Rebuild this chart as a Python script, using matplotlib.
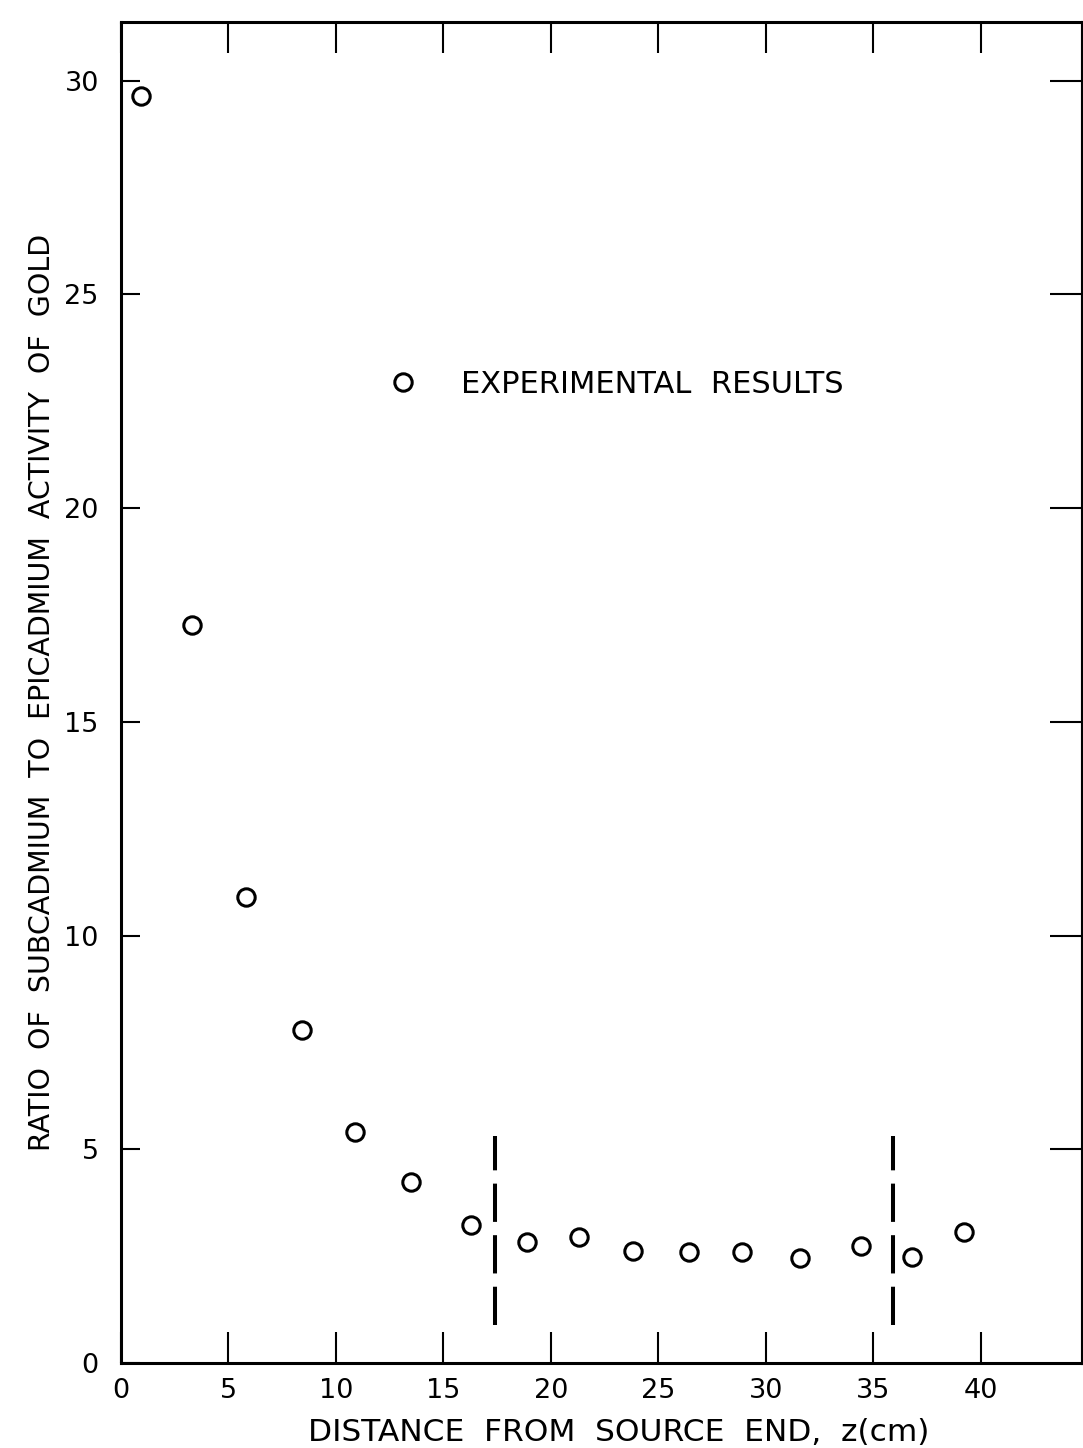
import numpy as np
import matplotlib
matplotlib.use("Agg")
from matplotlib import pyplot as plt

# data
z = [0.93, 3.3, 5.8, 8.4, 10.9, 13.5, 16.3, 18.9, 21.3, 23.8, 26.4, 28.9, 31.6, 34.4, 36.8, 39.2]
ratio = [29.64, 17.26, 10.9, 7.8, 5.4, 4.23, 3.23, 2.83, 2.95, 2.62, 2.60, 2.60, 2.46, 2.74, 2.48, 3.06]
bounds_z = [17.4, 35.9]
bounds_lo, bounds_hi = 0.9, 5.3
xticks = [0, 5, 10, 15, 20, 25, 30, 35, 40]
yticks = [0, 5, 10, 15, 20, 25, 30]

plt.rcParams['font.family'] = ['DejaVu Sans']
fig = plt.figure(figsize=(10.83, 14.48), dpi=100)
ax = fig.add_axes([121/1083, 1 - 1363/1448, (1082-121)/1083, (1363-22)/1448])

ax.plot(z, ratio, 'o', ms=12.5, mfc='white', mec='black', mew=2.2, label='EXPERIMENTAL  RESULTS')
ax.vlines(bounds_z, bounds_lo, bounds_hi, colors='black', lw=2.9, linestyles=[(0, (9.5, 3.3))])

ax.set_xlim(0, 44.7)
ax.set_ylim(0, 31.37)
ax.set_xticks(xticks)
ax.set_yticks(yticks)
ax.set_xticklabels([str(t) for t in xticks], fontsize=19.5)
ax.set_yticklabels([str(t) for t in yticks], fontsize=19.5)
ax.tick_params(axis='x', direction='in', length=22, width=1.5, pad=11, top=True)
ax.tick_params(axis='y', direction='in', length=14, width=1.5, pad=16)
for s in ax.spines.values():
    s.set_linewidth(2.2)

ax2 = ax.twinx()
ax2.set_ylim(ax.get_ylim())
ax2.set_yticks(yticks[1:])
ax2.tick_params(axis='y', direction='in', length=23, width=1.5, labelright=False)
ax2.spines['right'].set_linewidth(2.2)

ax.set_xlabel('DISTANCE  FROM  SOURCE  END,  z(cm)', fontsize=22.5)
ax.xaxis.set_label_coords(0.518, -0.041)
ax.set_ylabel('RATIO  OF  SUBCADMIUM  TO  EPICADMIUM  ACTIVITY  OF  GOLD', fontsize=20.5, labelpad=6)

ax.legend(loc='center left', bbox_to_anchor=(0.249, 0.73), frameon=False, fontsize=22,
          handletextpad=1.4, handlelength=1.0)

fig.savefig('out.png', dpi=100)
